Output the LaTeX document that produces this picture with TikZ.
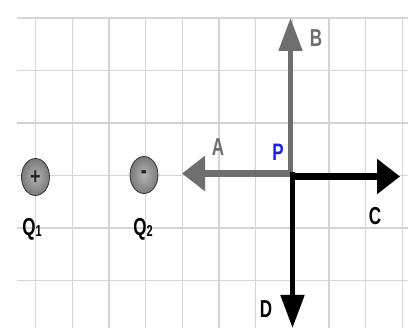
\documentclass[tikz,border=0pt]{standalone}
\usepackage{fontspec}
\setmainfont{Liberation Sans}
\usetikzlibrary{arrows.meta}
\definecolor{gridc}{HTML}{D4D4D4}
\definecolor{arrgray}{HTML}{6E6E6E}
\definecolor{pblue}{HTML}{1E1EE6}
\definecolor{chin}{HTML}{B4B4B4}
\definecolor{chout}{HTML}{7A7A7A}
\begin{document}
\begin{tikzpicture}[x=1pt,y=-1pt,
  gridh/.style={draw=gridc,line width=1.8pt},
  gridv/.style={draw=gridc,line width=1.3pt},
  lbl/.style={inner sep=0pt,font=\fontsize{17}{17}\selectfont\bfseries},
  chargeball/.style={inner color=chin, outer color=chout, draw=gray!40!black, line width=0.8pt},
  harr/.style={line width=7pt,-{Triangle[length=23pt,width=34pt]}},
  varr/.style={line width=5pt,-{Triangle[length=33pt,width=23pt]}},
]
\useasboundingbox (0,0) rectangle (408,328);
\fill[white] (0,0) rectangle (408,328);
% grid
\foreach \k in {0,...,5}
  \draw[gridh] (17,{18+52.5*\k}) -- (408,{18+52.5*\k});
\foreach \k in {0,...,10}
  \draw[gridv] ({35.5+36.7*\k},17) -- ({35.5+36.7*\k},328);
% charges
\shade[chargeball] (35.5,177) ellipse [x radius=14, y radius=18.5];
\shade[chargeball] (144,175) ellipse [x radius=14, y radius=18.5];
\node[inner sep=0pt,text=black!85] (q1s) at (35.5,178) {\scalebox{1}[1.3]{\fontsize{18}{18}\selectfont\bfseries +}};
\node[inner sep=0pt,text=black!85] (q2s) at (144,175) {\scalebox{1.3}[2.0]{\fontsize{14}{14}\selectfont\bfseries -}};
\node[lbl] (q1) at (32,229) {\scalebox{1}[1.44]{Q\raisebox{-1pt}{\fontsize{11}{11}\selectfont 1}}};
\node[lbl] (q2) at (143,229) {\scalebox{1}[1.44]{Q\raisebox{-1pt}{\fontsize{11}{11}\selectfont 2}}};
% arrows
\coordinate (Pg) at (293,173.5);
\coordinate (Atip) at (182,173.5);
\coordinate (Pb) at (290.5,176);
\coordinate (Btip) at (290.5,18);
\coordinate (Pc) at (290,176.5);
\coordinate (Ctip) at (400,176.5);
\coordinate (Pd) at (292.5,172);
\coordinate (Dtip) at (292.5,328);
\draw[harr,arrgray] (Pg) -- (Atip);
\draw[varr,arrgray] (Pb) -- (Btip);
\draw[harr,black] (Pc) -- (Ctip);
\draw[varr,black] (Pd) -- (Dtip);
% labels
\node[lbl,text=arrgray] (lA) at (218,147) {\scalebox{1}[1.44]{A}};
\node[lbl,text=arrgray] (lB) at (316,38) {\scalebox{1}[1.44]{B}};
\node[lbl,text=black] (lC) at (375,216) {\scalebox{1}[1.44]{C}};
\node[lbl,text=black] (lD) at (266,309) {\scalebox{1}[1.44]{D}};
\node[lbl,text=pblue,font=\fontsize{17}{17}\selectfont\bfseries] (lP) at (278,152.5) {\scalebox{1}[1.4]{P}};
\end{tikzpicture}
\end{document}
